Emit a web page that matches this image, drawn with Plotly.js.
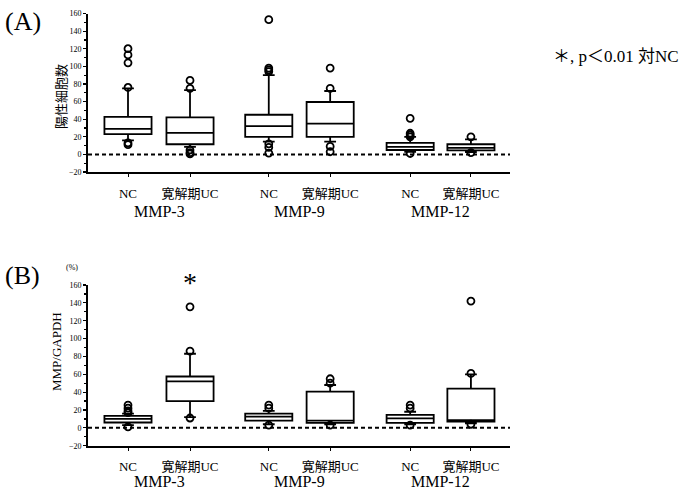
<!DOCTYPE html>
<html>
<head>
<meta charset="utf-8">
<script src="https://cdn.plot.ly/plotly-3.0.1.min.js"></script>
<style>html,body{margin:0;padding:0;background:#fff;}#chart{width:684px;height:495px;}</style>
</head>
<body>
<div id="chart"></div>
<script>
// ---- data ----
const categories = ['NC', '寛解期UC', 'NC', '寛解期UC', 'NC', '寛解期UC'];
const groups = ['MMP-3', 'MMP-9', 'MMP-12'];

// Panel A: 陽性細胞数
const A_q1     = [23, 11.5, 20, 20, 5, 4.5];
const A_median = [29, 24.5, 32, 35, 8.5, 7.5];
const A_q3     = [42.5, 42, 45, 59.5, 13, 11.5];
const A_lower  = [16, 8.5, 14.5, 14.5, 3, 2.5];
const A_upper  = [75, 73, 90, 72, 20, 17];
const A_outliers = [
  [104, 113, 120, 76, 13, 11],
  [84, 75, 5, 2, 0.5],
  [153, 98, 96, 94, 12, 8, 1.5],
  [98, 75, 9, 3],
  [41, 24, 22, 20, 1],
  [20, 2]
];

// Panel B: MMP/GAPDH (%)
const B_q1     = [6, 30, 8, 5.5, 5.5, 7];
const B_median = [10, 52, 12.5, 8, 10.5, 8.5];
const B_q3     = [13.5, 57.5, 16, 40.5, 14.5, 44];
const B_lower  = [3, 12, 4, 4, 4, 5];
const B_upper  = [16, 83, 19, 48, 18, 60];
const B_outliers = [
  [25.5, 22, 19, 17, 1],
  [86, 135.5, 11],
  [25.5, 22, 3],
  [55, 50, 3],
  [25.5, 22, 3],
  [142, 61, 4]
];

// ---- layout helpers (slot positions along the x axis) ----
const slotX = [0, 1, 2.27, 3.26, 4.55, 5.53];
const groupX = [0, 1, 2].map(g => (slotX[2*g] + slotX[2*g+1]) / 2);

const serif = 'Liberation Serif, Times New Roman, Noto Sans CJK JP, serif';

function boxTrace(q1, med, q3, lo, hi, xa, ya) {
  return {
    type: 'box', x: slotX, q1: q1, median: med, q3: q3,
    lowerfence: lo, upperfence: hi, width: 0.76, whiskerwidth: 0.25,
    boxpoints: false, fillcolor: 'white',
    line: {color: 'black', width: 1.8},
    xaxis: xa, yaxis: ya, showlegend: false, hoverinfo: 'skip'
  };
}
function outlierTrace(outs, xa, ya) {
  const xs = [], ys = [];
  outs.forEach((arr, i) => arr.forEach(v => { xs.push(slotX[i]); ys.push(v); }));
  return {
    type: 'scatter', mode: 'markers', x: xs, y: ys,
    marker: {symbol: 'circle-open', size: 7, color: 'black', line: {width: 1.8, color: 'black'}},
    xaxis: xa, yaxis: ya, showlegend: false, hoverinfo: 'skip'
  };
}

const data = [
  boxTrace(A_q1, A_median, A_q3, A_lower, A_upper, 'x', 'y'),
  outlierTrace(A_outliers, 'x', 'y'),
  boxTrace(B_q1, B_median, B_q3, B_lower, B_upper, 'x2', 'y2'),
  outlierTrace(B_outliers, 'x2', 'y2')
];

const W = 684, H = 495;
const xDom = [88 / W, 510 / W];
const xRange = [-0.645, 6.16];

function xAxis(anchor) {
  return {
    domain: xDom, range: xRange, anchor: anchor,
    showline: true, linecolor: 'black', linewidth: 2,
    showgrid: false, zeroline: false,
    tickvals: slotX, ticktext: categories,
    ticks: 'outside', ticklen: 3, tickcolor: 'black', tickwidth: 1,
    ticklabelstandoff: 5,
    tickfont: {family: serif, size: 13, color: '#000'}
  };
}
function yAxis(anchor, dom) {
  return {
    domain: dom, range: [-20, 160], anchor: anchor,
    showline: true, linecolor: 'black', linewidth: 2,
    showgrid: false, zeroline: false,
    tickvals: [-20, 0, 20, 40, 60, 80, 100, 120, 140, 160],
    ticks: 'outside', ticklen: 3, tickcolor: 'black', tickwidth: 1.2,
    minor: {dtick: 10, tick0: 0, ticks: 'outside', ticklen: 2, tickcolor: 'black', showgrid: false},
    tickfont: {family: serif, size: 8, color: '#000'}
  };
}

const layout = {
  width: W, height: H,
  margin: {l: 0, r: 0, t: 0, b: 0},
  paper_bgcolor: 'white', plot_bgcolor: 'white',
  showlegend: false,
  xaxis: xAxis('y'),
  yaxis: yAxis('x', [1 - 172 / H, 1 - 13.5 / H]),
  xaxis2: xAxis('y2'),
  yaxis2: yAxis('x2', [1 - 445.7 / H, 1 - 285 / H]),
  shapes: [
    {type: 'line', xref: 'x domain', yref: 'y', x0: 0, x1: 1, y0: 0, y1: 0,
     line: {color: 'black', width: 2, dash: '4px,3px'}},
    {type: 'line', xref: 'x2 domain', yref: 'y2', x0: 0, x1: 1, y0: 0, y1: 0,
     line: {color: 'black', width: 2, dash: '4px,3px'}}
  ],
  annotations: [
    {text: '(A)', xref: 'paper', yref: 'paper', x: 3 / W, y: 1 - 21 / H, xanchor: 'left', yanchor: 'middle',
     showarrow: false, font: {family: serif, size: 26, color: '#000'}},
    {text: '(B)', xref: 'paper', yref: 'paper', x: 3 / W, y: 1 - 275 / H, xanchor: 'left', yanchor: 'middle',
     showarrow: false, font: {family: serif, size: 26, color: '#000'}},
    {text: '＊, p＜0.01 対NC', xref: 'paper', yref: 'paper', x: 681 / W, y: 1 - 57 / H, xanchor: 'right', yanchor: 'middle',
     showarrow: false, font: {family: serif, size: 17, color: '#000'}},
    {text: '陽性細胞数', xref: 'paper', yref: 'paper', x: 60 / W, y: 1 - 97 / H, textangle: -90,
     xanchor: 'center', yanchor: 'middle', showarrow: false, font: {family: 'Noto Sans CJK JP', size: 13, color: '#000'}},
    {text: 'MMP/GAPDH', xref: 'paper', yref: 'paper', x: 56 / W, y: 1 - 352 / H, textangle: -90,
     xanchor: 'center', yanchor: 'middle', showarrow: false, font: {family: serif, size: 13, color: '#000'}},
    {text: '(%)', xref: 'paper', yref: 'paper', x: 72 / W, y: 1 - 267 / H, xanchor: 'center', yanchor: 'middle',
     showarrow: false, font: {family: serif, size: 8, color: '#000'}},
    {text: '*', xref: 'x2', yref: 'paper', x: slotX[1], y: 1 - 282 / H, xanchor: 'center', yanchor: 'middle',
     showarrow: false, font: {family: serif, size: 28, color: '#000'}}
  ].concat(groups.map((g, i) => ({
    text: g, xref: 'x', yref: 'paper', x: groupX[i], y: 1 - 211 / H, xanchor: 'center', yanchor: 'middle',
    showarrow: false, font: {family: serif, size: 16, color: '#000'}
  }))).concat(groups.map((g, i) => ({
    text: g, xref: 'x2', yref: 'paper', x: groupX[i], y: 1 - 481 / H, xanchor: 'center', yanchor: 'middle',
    showarrow: false, font: {family: serif, size: 16, color: '#000'}
  })))
};

Plotly.newPlot('chart', data, layout, {staticPlot: true, displayModeBar: false});
</script>
</body>
</html>
